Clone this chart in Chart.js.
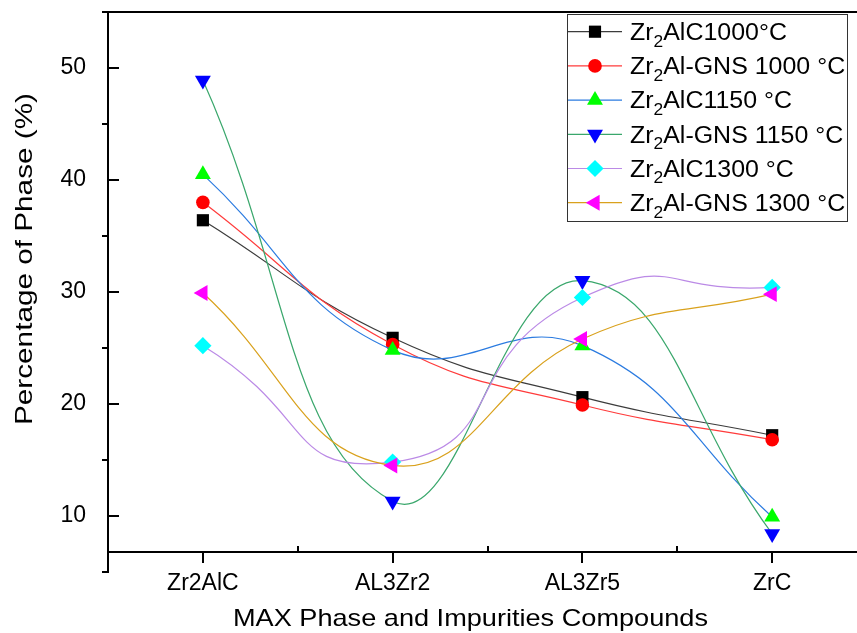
<!DOCTYPE html>
<html lang="en">
<head>
<meta charset="UTF-8">
<title>Phase content of Zr2AlC samples</title>
<script src="https://cdn.jsdelivr.net/npm/chart.js"></script>
<style>
  html, body { margin: 0; padding: 0; background: #ffffff; }
  canvas { display: block; }
</style>
</head>
<body>
<canvas id="phaseChart" width="857" height="633"></canvas>
<script>
  // compounds on the x axis
  const compounds = ['Zr2AlC', 'AL3Zr2', 'AL3Zr5', 'ZrC'];

  // phase percentages, one array per sample
  const zrAlC1000 = [36.4, 25.9, 20.6, 17.2];
  const zrAlGns1000 = [38.0, 25.3, 19.9, 16.8];
  const zrAlC1150 = [40.5, 24.8, 25.2, 9.9];
  const zrAlGns1150 = [48.9, 11.3, 31.0, 8.4];
  const zrAlC1300 = [25.2, 14.8, 29.5, 30.4];
  const zrAlGns1300 = [29.9, 14.5, 25.8, 29.8];

  const yTicks = [10, 20, 30, 40, 50];

  // legend text split as [before subscript, subscript, after]
  const seriesLabels = [
    ['Zr', '2', 'AlC1000°C'],
    ['Zr', '2', 'Al-GNS 1000 °C'],
    ['Zr', '2', 'AlC1150 °C'],
    ['Zr', '2', 'Al-GNS 1150 °C'],
    ['Zr', '2', 'AlC1300 °C'],
    ['Zr', '2', 'Al-GNS 1300 °C']
  ];

  const xTitle = 'MAX Phase and Impurities Compounds';
  const yTitle = 'Percentage of Phase (%)';

  const FONT = '"Liberation Sans", Arial, Helvetica, sans-serif';
  Chart.defaults.font.family = FONT;

  const series = [
    { values: zrAlC1000,   line: '#3c3c3c', marker: '#000000', style: 'rect',     radius: 8.6, rotation: 0,   tension: 0.45 },
    { values: zrAlGns1000, line: '#ff3b3b', marker: '#ff0000', style: 'circle',   radius: 6.8, rotation: 0,   tension: 0.45 },
    { values: zrAlC1150,   line: '#2b7be0', marker: '#00ff00', style: 'triangle', radius: 9.2, rotation: 0,   tension: 0.45 },
    { values: zrAlGns1150, line: '#3aa76c', marker: '#0000ff', style: 'triangle', radius: 9.2, rotation: 180, tension: 0.45 },
    { values: zrAlC1300,   line: '#bb8ae6', marker: '#00ffff', style: 'rectRot',  radius: 8.6, rotation: 0,   tension: 0.6 },
    { values: zrAlGns1300, line: '#d9a11c', marker: '#ff00ff', style: 'triangle', radius: 9.2, rotation: 270, tension: 0.45 }
  ];

  const datasets = series.map((s, i) => ({
    label: seriesLabels[i].join(''),
    data: s.values.map((v, k) => ({ x: k, y: v })),
    borderColor: s.line,
    borderWidth: 1.2,
    tension: s.tension,
    fill: false,
    pointStyle: s.style,
    pointRadius: s.radius,
    pointRotation: s.rotation,
    pointBackgroundColor: s.marker,
    pointBorderWidth: 0,
    order: series.length - i
  }));

  // no extra room for labels hanging over the plot edges
  function noEdgePadding(s) {
    s.paddingTop = 0;
    s.paddingBottom = 0;
    s.paddingLeft = 0;
    s.paddingRight = 0;
  }

  // axes, ticks, titles and legend box
  const framePlugin = {
    id: 'frame',
    afterDraw(chart) {
      const { ctx, chartArea: a } = chart;
      const x = chart.scales.x;
      const y = chart.scales.y;
      const L = Math.round(a.left);
      const T = Math.round(a.top);
      const B = Math.round(a.bottom);
      const R = Math.round(a.right);

      ctx.save();
      ctx.fillStyle = '#000000';
      // left axis reaches down past the bottom axis to 5
      const y5 = Math.round(y.getPixelForValue(5));
      ctx.fillRect(L - 1, T - 1, 2, y5 - T + 2);
      // bottom axis
      ctx.fillRect(L - 1, B - 1, R - L + 1, 2);
      // y ticks: major inside, minor outside
      for (let v = 5; v <= 50; v += 5) {
        const py = Math.round(y.getPixelForValue(v));
        if (v % 10 === 0) {
          ctx.fillRect(L, py - 1, 11, 2);
        } else {
          ctx.fillRect(L - 6, py - 1, 6, 2);
        }
      }
      // x ticks: major outside, minor inside
      for (let i = 0; i < compounds.length; i++) {
        const px = Math.round(x.getPixelForValue(i));
        ctx.fillRect(px - 1, B, 2, 11);
        const mx = Math.round(x.getPixelForValue(i + 0.5));
        if (mx < R) {
          ctx.fillRect(mx - 1, B - 6, 2, 6);
        }
      }

      // axis titles
      ctx.textBaseline = 'alphabetic';
      ctx.textAlign = 'center';
      ctx.font = '24px ' + FONT;
      let w = ctx.measureText(xTitle).width;
      ctx.save();
      ctx.translate(470.5, 625.5);
      ctx.scale(475 / w, 1);
      ctx.fillText(xTitle, 0, 0);
      ctx.restore();

      w = ctx.measureText(yTitle).width;
      ctx.save();
      ctx.translate(31.5, 259);
      ctx.rotate(-Math.PI / 2);
      ctx.scale(332 / w, 1);
      ctx.fillText(yTitle, 0, 0);
      ctx.restore();

      // legend
      const box = { left: 567, top: 14, right: 847, bottom: 221 };
      ctx.fillStyle = '#ffffff';
      ctx.fillRect(box.left, box.top, box.right - box.left, box.bottom - box.top);
      ctx.strokeStyle = '#333333';
      ctx.lineWidth = 1;
      ctx.strokeRect(box.left + 0.5, box.top + 0.5, box.right - box.left, box.bottom - box.top);

      ctx.textAlign = 'left';
      series.forEach((s, i) => {
        const ry = 31.7 + 34.2 * i;
        ctx.strokeStyle = s.line;
        ctx.lineWidth = 1.2;
        ctx.beginPath();
        ctx.moveTo(box.left + 1, ry);
        ctx.lineTo(622, ry);
        ctx.stroke();

        ctx.fillStyle = s.marker;
        Chart.helpers.drawPoint(ctx, {
          pointStyle: s.style, radius: s.radius, rotation: s.rotation, borderWidth: 0
        }, 595, ry);

        const parts = seriesLabels[i];
        ctx.fillStyle = '#000000';
        ctx.save();
        ctx.translate(630, ry + 8.3);
        ctx.scale(1.085, 1);
        let cx = 0;
        ctx.font = '23px ' + FONT;
        ctx.fillText(parts[0], cx, 0);
        cx += ctx.measureText(parts[0]).width;
        ctx.font = '16px ' + FONT;
        ctx.fillText(parts[1], cx, 6.5);
        cx += ctx.measureText(parts[1]).width;
        ctx.font = '23px ' + FONT;
        ctx.fillText(parts[2], cx, 0);
        ctx.restore();
      });

      // top frame line, with the minor tick at 55 sticking out left
      ctx.fillStyle = '#000000';
      ctx.fillRect(L - 6, T - 1, R - L + 6, 2);
      ctx.restore();
    }
  };

  new Chart(document.getElementById('phaseChart').getContext('2d'), {
    type: 'line',
    data: { datasets },
    options: {
      responsive: false,
      animation: false,
      devicePixelRatio: 1,
      layout: { autoPadding: false, padding: { top: 12, right: 0, bottom: 0, left: 0 } },
      plugins: {
        legend: { display: false },
        tooltip: { enabled: false }
      },
      scales: {
        x: {
          type: 'linear',
          min: -0.5,
          max: 3.447,
          afterFit: s => { s.height = 81; noEdgePadding(s); },
          afterBuildTicks: s => { s.ticks = compounds.map((c, i) => ({ value: i })); },
          grid: { display: false },
          border: { display: false },
          ticks: {
            autoSkip: false,
            maxRotation: 0,
            padding: 10,
            color: '#000000',
            font: { size: 23 },
            callback: v => compounds[v]
          }
        },
        y: {
          min: 6.77,
          max: 55,
          afterFit: s => { s.width = 108; noEdgePadding(s); },
          afterBuildTicks: s => { s.ticks = yTicks.map(v => ({ value: v })); },
          grid: { display: false },
          border: { display: false },
          ticks: {
            padding: 14,
            color: '#000000',
            font: { size: 23 }
          }
        }
      }
    },
    plugins: [framePlugin]
  });
</script>
</body>
</html>
